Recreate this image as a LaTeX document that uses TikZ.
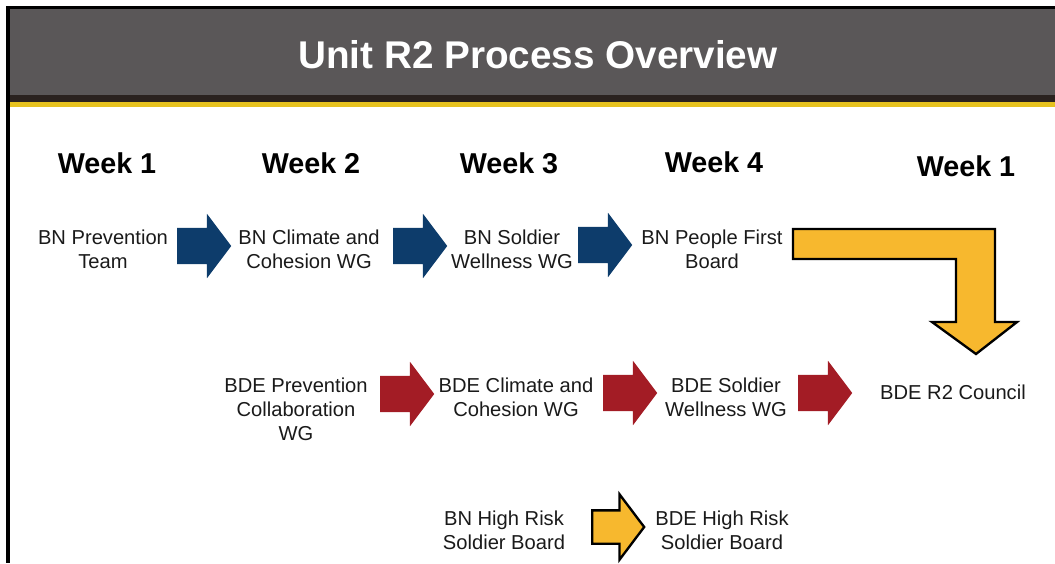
\documentclass[tikz,border=0pt]{standalone}
\usepackage{fontspec}
\setmainfont{Liberation Sans}
\usetikzlibrary{shapes.arrows}

\definecolor{headgray}{HTML}{5A5758}
\definecolor{headdark}{HTML}{2A221F}
\definecolor{headyellow}{HTML}{E6C21F}
\definecolor{armynavy}{HTML}{0D3C6B}
\definecolor{armyred}{HTML}{A31C25}
\definecolor{armygold}{HTML}{F7B82E}
\definecolor{textgray}{HTML}{1A1A1A}

\newcommand{\titlefont}{\fontsize{33pt}{36pt}\selectfont\bfseries}
\newcommand{\weekfont}{\fontsize{24.5pt}{28pt}\selectfont\bfseries}
\newcommand{\stagefont}{\fontsize{17.2pt}{20.4pt}\selectfont}

\begin{document}
\begin{tikzpicture}[x=0.3mm, y=-0.3mm]
          \tikzset{
            stage/.style = { align = center, font = \stagefont,
              text = textgray, inner sep = 1pt },
            weeklabel/.style = { font = \weekfont, text = black },
            blockarrow/.style = { single arrow, draw = none,
              inner sep = 0pt, inner ysep = 5.4mm,
              minimum height = 16.2mm,
              single arrow head extend = 4.2mm,
              single arrow tip angle = 106, anchor = tail },
            goldarrow/.style = { blockarrow, fill = armygold,
              draw = black, line width = 2pt,
              inner ysep = 4.65mm, minimum height = 15.6mm,
              single arrow head extend = 4.8mm }
          }
          \useasboundingbox (0,0) rectangle (1055,563);

          % header
          \fill[black] (6,6) rectangle (1055,9);
          \fill[black] (6,6) rectangle (10,563);
          \fill[headgray] (10,9) rectangle (1055,95);
          \fill[headdark] (10,95) rectangle (1055,102);
          \fill[headyellow] (10,102) rectangle (1055,107);
          \node[font=\titlefont, text=white] (title) at (538,55) {Unit R2 Process Overview};

          % weeks
          \node[weeklabel] (wk1) at (107,163) {Week 1};
          \node[weeklabel] (wk2) at (311,163) {Week 2};
          \node[weeklabel] (wk3) at (509,163) {Week 3};
          \node[weeklabel] (wk4) at (714,162) {Week 4};
          \node[weeklabel] (wk5) at (966,166) {Week 1};

          % BN row
          \node[stage] (BNPT) at (103,249) {BN Prevention\\Team};
          \node[stage] (BNCC) at (309,249) {BN Climate and\\Cohesion WG};
          \node[stage] (BNSW) at (512,249) {BN Soldier\\Wellness WG};
          \node[stage] (BNPF) at (712,249) {BN People First\\Board};
          \node[blockarrow, fill=armynavy] (bn1) at (177,246) {};
          \node[blockarrow, fill=armynavy] (bn2) at (393,246) {};
          \node[blockarrow, fill=armynavy] (bn3) at (578,245) {};

          % BDE row
          \node[stage] (BDEPC) at (296,409) {BDE Prevention\\Collaboration\\WG};
          \node[stage] (BDECC) at (516,397) {BDE Climate and\\Cohesion WG};
          \node[stage] (BDESW) at (726,397) {BDE Soldier\\Wellness WG};
          \node[stage] (BDER2) at (953,392) {BDE R2 Council};
          \node[blockarrow, fill=armyred] (bde1) at (380,394) {};
          \node[blockarrow, fill=armyred] (bde2) at (603,393) {};
          \node[blockarrow, fill=armyred] (bde3) at (798,393) {};

          % people first board feeds the council
          \coordinate (lstart) at (793,244);
          \draw[fill=armygold, line width=2pt, line join=miter]
            (lstart |- 0,229) -- (995,229) -- (995,322) -- (1017,322)
            -- (976,354) -- (932,322) -- (956,322) -- (956,259)
            -- (lstart |- 0,259) -- cycle;

          % high risk
          \node[stage] (BNHR) at (504,530) {BN High Risk\\Soldier Board};
          \node[stage] (BDEHR) at (722,530) {BDE High Risk\\Soldier Board};
          \node[goldarrow] (hr) at (591,527) {};
\end{tikzpicture}
\end{document}
